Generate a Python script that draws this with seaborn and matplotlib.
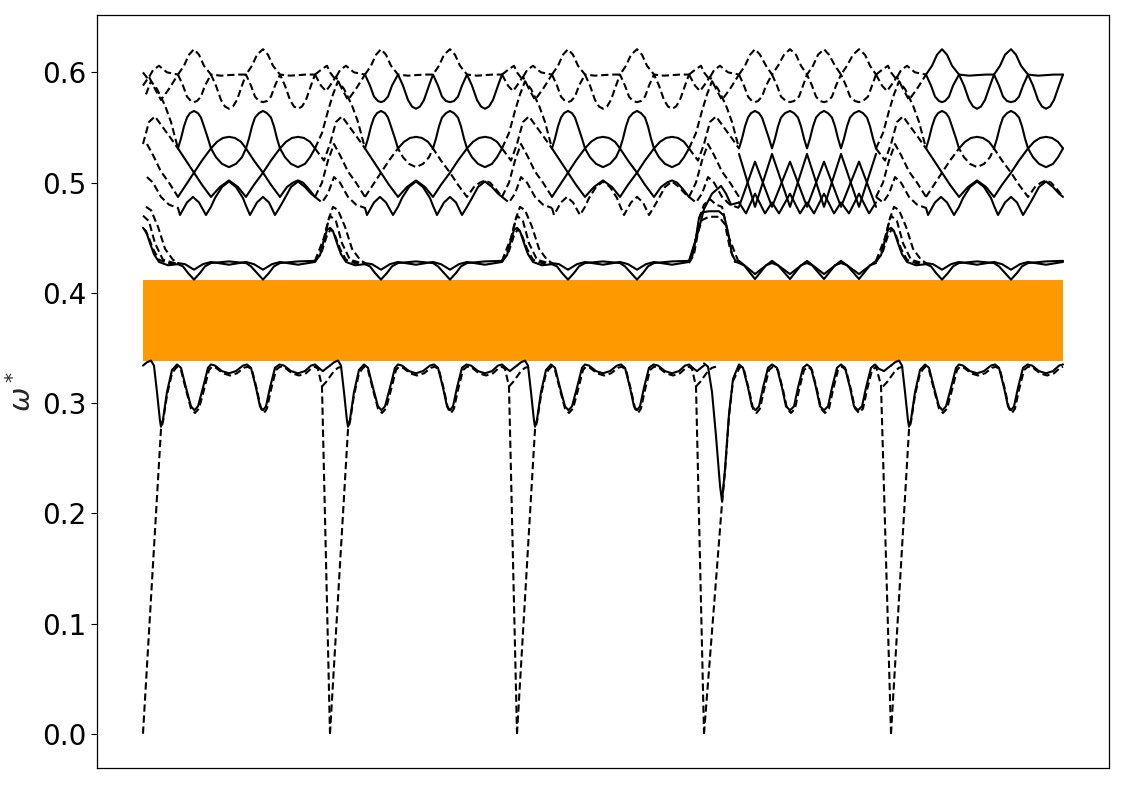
import matplotlib
matplotlib.use("Agg")
import matplotlib.pyplot as plt
import seaborn as sns
import pandas as pd

# k-path: five segments, positions read in pixels (187 px per full segment)
SEG = 187.0
seg_start = [0, 1, 2, 3, 4]
seg_kind = ["A", "A", "A", "B", "A"]     # seg 4 has the short-period pattern
seg_end = [187, 187, 187, 187, 172]       # last segment is shorter
bnd_kind = ["peak", "peak", "plateau", "peak"]

# ---------------- upper bands, main part of a segment (s = 35..172 px) ----------------
UE_A_s = [35, 41, 46, 51, 56, 61, 68, 78, 86, 95, 103, 109, 114, 120, 125, 130, 137, 147, 155, 163, 172]
UE_A_v = [0.598, 0.606, 0.616, 0.621, 0.616, 0.606, 0.598, 0.597, 0.5975, 0.598, 0.598, 0.606, 0.616,
          0.621, 0.616, 0.606, 0.598, 0.597, 0.5975, 0.598, 0.598]
UE_B_s = [35, 41, 46, 51, 56, 62, 68, 74, 80, 86, 92, 97, 103, 109, 114, 120, 125, 131, 137, 143, 149,
          155, 161, 166, 172]
UE_B_v = [0.598, 0.606, 0.616, 0.621, 0.616, 0.606, 0.598, 0.606, 0.616, 0.621, 0.616, 0.606, 0.598,
          0.606, 0.616, 0.621, 0.616, 0.606, 0.598, 0.606, 0.616, 0.621, 0.616, 0.606, 0.598]

LE_A_s = [35, 40, 44, 48, 51, 54, 58, 62, 68, 73, 78, 82, 86, 90, 94, 99, 103, 108, 112, 116, 120, 124,
          128, 132, 137, 142, 147, 151, 155, 159, 163, 168, 172]
LE_A_v = [0.598, 0.588, 0.578, 0.574, 0.573, 0.574, 0.578, 0.588, 0.598, 0.588, 0.575, 0.569, 0.567,
          0.569, 0.575, 0.588, 0.598, 0.588, 0.578, 0.574, 0.573, 0.574, 0.578, 0.588, 0.598, 0.588,
          0.575, 0.569, 0.567, 0.569, 0.575, 0.588, 0.598]
LE_B_s = [35, 40, 44, 48, 51, 54, 58, 62, 68, 73, 77, 82, 86, 90, 95, 99, 103, 108, 112, 116, 120, 124,
          128, 132, 137, 142, 146, 151, 155, 159, 164, 168, 172]
LE_B_v = [0.598, 0.588, 0.578, 0.574, 0.573, 0.574, 0.578, 0.588, 0.598, 0.588, 0.578, 0.574, 0.573,
          0.574, 0.578, 0.588, 0.598, 0.588, 0.578, 0.574, 0.573, 0.574, 0.578, 0.588, 0.598, 0.588,
          0.578, 0.574, 0.573, 0.574, 0.578, 0.588, 0.598]

BELL_A_s = [35, 38, 41, 44, 47, 51, 55, 58, 61, 65, 68, 74, 80, 86, 92, 98, 103, 106, 109, 112, 116,
            120, 124, 128, 131, 134, 137, 143, 149, 155, 161, 167, 172]
BELL_A_v = [0.531, 0.540, 0.551, 0.559, 0.563, 0.565, 0.563, 0.559, 0.551, 0.540, 0.531, 0.537, 0.5405,
            0.5415, 0.5405, 0.537, 0.531, 0.540, 0.551, 0.559, 0.563, 0.565, 0.563, 0.559, 0.551, 0.540,
            0.531, 0.537, 0.5405, 0.5415, 0.5405, 0.537, 0.531]
BELL_B_s = [35, 38, 41, 44, 47, 51, 55, 58, 61, 65, 68, 71, 74, 77, 81, 86, 90, 94, 97, 100, 103, 106,
            109, 112, 116, 120, 124, 128, 131, 134, 137, 140, 143, 146, 150, 155, 159, 163, 166, 169, 172]
BELL_B_v = [0.531, 0.540, 0.551, 0.559, 0.563, 0.565, 0.563, 0.559, 0.551, 0.540,
            0.531, 0.540, 0.551, 0.559, 0.563, 0.565, 0.563, 0.559, 0.551, 0.540,
            0.531, 0.540, 0.551, 0.559, 0.563, 0.565, 0.563, 0.559, 0.551, 0.540,
            0.531, 0.540, 0.551, 0.559, 0.563, 0.565, 0.563, 0.559, 0.551, 0.540, 0.531]

MID1_A_s = [35, 43, 51, 59, 68, 77, 86, 95, 103, 111, 120, 128, 137, 142, 148, 155, 162, 167, 172]
MID1_A_v = [0.531, 0.520, 0.509, 0.498, 0.487, 0.496, 0.502, 0.496, 0.487, 0.498, 0.509, 0.520, 0.531,
            0.523, 0.517, 0.514, 0.517, 0.523, 0.531]
MID1_B_s = [35, 51, 68, 86, 103, 120, 137, 155, 172]
MID1_B_v = [0.478, 0.519, 0.478, 0.519, 0.478, 0.519, 0.478, 0.519, 0.478]

MID2_A_s = [35, 43, 51, 59, 68, 73, 79, 86, 93, 99, 103, 111, 120, 128, 137, 144, 150, 155, 160, 166, 172]
MID2_A_v = [0.487, 0.498, 0.509, 0.520, 0.531, 0.523, 0.517, 0.514, 0.517, 0.523, 0.531, 0.520, 0.509,
            0.498, 0.487, 0.496, 0.500, 0.502, 0.500, 0.494, 0.487]
MID2_B_s = [35, 51, 68, 86, 103, 120, 137, 155, 172]
MID2_B_v = [0.526, 0.478, 0.526, 0.478, 0.526, 0.478, 0.526, 0.478, 0.526]

W_A_s = [35, 37, 44, 50, 56, 63, 68, 72, 79, 86, 93, 100, 103, 107, 114, 120, 126, 132, 137, 142, 148,
         155, 162, 168, 172]
W_A_v = [0.477, 0.4706, 0.482, 0.487, 0.482, 0.4706, 0.478, 0.486, 0.496, 0.501, 0.496, 0.486, 0.479,
         0.4706, 0.482, 0.487, 0.482, 0.4706, 0.478, 0.486, 0.496, 0.501, 0.496, 0.490, 0.487]
W_B_s = [35, 42, 51, 61, 68, 75, 86, 96, 103, 110, 120, 130, 137, 145, 155, 165, 172]
W_B_v = [0.482, 0.472, 0.490, 0.472, 0.482, 0.472, 0.490, 0.472, 0.482, 0.472, 0.490, 0.472, 0.482,
         0.472, 0.490, 0.472, 0.482]

# band just above the gap
G1_A_s = [35, 40, 45, 51, 57, 62, 68, 86, 103, 108, 114, 120, 126, 131, 137, 155, 172]
G1_A_v = [0.426, 0.424, 0.418, 0.412, 0.418, 0.424, 0.427, 0.4285, 0.427, 0.424, 0.418, 0.412, 0.418,
          0.424, 0.427, 0.4285, 0.429]
G1_B_s = [35, 40, 51, 62, 68, 74, 86, 97, 103, 108, 120, 131, 137, 143, 155, 166, 172]
G1_B_v = [0.427, 0.425, 0.4125, 0.425, 0.427, 0.425, 0.4125, 0.425, 0.427, 0.425, 0.4125, 0.425, 0.427,
          0.425, 0.4125, 0.425, 0.427]
G2_A_s = [35, 42, 51, 60, 68, 86, 103, 111, 120, 129, 137, 155, 172]
G2_A_v = [0.427, 0.426, 0.421, 0.426, 0.428, 0.4255, 0.428, 0.426, 0.421, 0.426, 0.428, 0.4255, 0.428]
G2_B_s = [35, 51, 68, 86, 103, 120, 137, 155, 172]
G2_B_v = [0.429, 0.417, 0.429, 0.417, 0.429, 0.417, 0.429, 0.417, 0.429]

# ---------------- lowest band (s = 0..187 px) ----------------
LOW_A_s = [0, 4, 8, 11, 14, 17, 18, 20, 24, 29, 34, 38, 43, 48, 51.5, 55, 60, 65, 68, 72, 79, 86, 93,
           100, 104, 108, 113, 117, 120, 123, 127, 132, 136.5, 141, 148, 155, 162, 168, 172, 177, 180,
           184, 187]
LOW_A_v = [0.334, 0.337, 0.3385, 0.334, 0.310, 0.284, 0.2785, 0.285, 0.310, 0.330, 0.335, 0.332, 0.314,
           0.297, 0.2935, 0.297, 0.314, 0.332, 0.335, 0.334, 0.329, 0.327, 0.329, 0.334, 0.335, 0.332,
           0.314, 0.297, 0.2935, 0.297, 0.314, 0.332, 0.335, 0.334, 0.329, 0.327, 0.329, 0.334, 0.335,
           0.331, 0.329, 0.332, 0.334]
LOW_B_s = [0, 4, 8, 12, 16, 18, 21, 25, 29, 35, 39, 44, 48, 51.5, 55, 59, 64, 68, 73, 78, 82, 86, 90,
           94, 99, 103, 107, 112, 116, 120, 124, 128, 133, 137, 141, 146, 150, 154, 158, 162, 167, 171,
           175, 180, 184, 187]
LOW_B_v = [0.336, 0.333, 0.310, 0.270, 0.225, 0.211, 0.240, 0.290, 0.322,
           0.335, 0.332, 0.314, 0.297, 0.2935, 0.297, 0.314, 0.332,
           0.335, 0.332, 0.314, 0.297, 0.2935, 0.297, 0.314, 0.332,
           0.335, 0.332, 0.314, 0.297, 0.2935, 0.297, 0.314, 0.332,
           0.335, 0.332, 0.314, 0.297, 0.2935, 0.297, 0.314, 0.332,
           0.335, 0.331, 0.329, 0.332, 0.334]
# acoustic (dashed) branch, 0 at every path corner
DA_A_s = [0, 18, 20, 24, 29, 34, 38, 43, 48, 52, 56, 61, 66, 69, 73, 80, 87, 94, 101, 105, 109, 114,
          118, 121, 124, 128, 133, 137, 142, 149, 156, 163, 169, 172, 175, 179, 187]
DA_A_v = [0.0, 0.276, 0.283, 0.307, 0.327, 0.333, 0.330, 0.312, 0.295, 0.291, 0.295, 0.312, 0.330,
          0.333, 0.332, 0.327, 0.325, 0.327, 0.332, 0.333, 0.330, 0.312, 0.295, 0.291, 0.295, 0.312,
          0.330, 0.333, 0.332, 0.327, 0.325, 0.327, 0.332, 0.333, 0.331, 0.315, 0.0]
DA_B_s = [0, 18, 21, 25, 29, 36, 40, 45, 49, 52.5, 56, 60, 65, 69, 74, 79, 83, 87, 91, 95, 100, 104,
          108, 113, 117, 121, 125, 129, 134, 138, 142, 147, 151, 155, 159, 163, 168, 172, 177, 187]
DA_B_v = [0.0, 0.209, 0.238, 0.288, 0.320,
          0.333, 0.330, 0.312, 0.295, 0.291, 0.295, 0.312, 0.330,
          0.333, 0.330, 0.312, 0.295, 0.291, 0.295, 0.312, 0.330,
          0.333, 0.330, 0.312, 0.295, 0.291, 0.295, 0.312, 0.330,
          0.333, 0.330, 0.312, 0.295, 0.291, 0.295, 0.312, 0.330,
          0.333, 0.316, 0.0]
# short dashed branch crossing each corner (t = px from the corner)
DB_t = [-8, -4, 0, 4, 8, 12]
DB_v = [0.315, 0.319, 0.324, 0.329, 0.332, 0.333]

# ---------------- tangles around the corners (t = -15..35 px) ----------------
UE_bd_t = [-15, -8, -3, 0, 5, 10, 16, 24, 35]
UE_bd_v = [0.598, 0.603, 0.606, 0.600, 0.594, 0.602, 0.606, 0.600, 0.598]
LE_bd_t = [-15, -9, -4, 0, 6, 12, 18, 26, 35]
LE_bd_v = [0.598, 0.588, 0.583, 0.588, 0.596, 0.585, 0.575, 0.585, 0.598]
BELL_bd_t = [-15, -8, -2, 3, 8, 14, 22, 28, 35]
BELL_bd_v = [0.531, 0.545, 0.565, 0.580, 0.592, 0.585, 0.570, 0.555, 0.531]
MID1_bd_t = [-15, -6, 0, 6, 12, 20, 28, 35]
MID1_bd_v = [0.531, 0.520, 0.535, 0.555, 0.560, 0.550, 0.540, 0.531]
MID2_bd_t = [-15, -8, -2, 4, 10, 18, 26, 35]
MID2_bd_v = [0.487, 0.500, 0.520, 0.535, 0.525, 0.510, 0.500, 0.487]
W_bd_t = [-15, -8, -2, 4, 10, 18, 26, 35]
W_bd_v = [0.487, 0.482, 0.490, 0.505, 0.500, 0.487, 0.480, 0.477]
G1_pk_t = [-15, -10, -6, -3, 0, 3, 7, 11, 16, 25, 35]
G1_pk_v = [0.429, 0.434, 0.448, 0.457, 0.459, 0.456, 0.445, 0.435, 0.428, 0.425, 0.426]
G2_pk_t = [-15, -8, -3, 1, 5, 10, 16, 25, 35]
G2_pk_v = [0.428, 0.438, 0.452, 0.458, 0.452, 0.440, 0.430, 0.427, 0.427]
GD1_pk_t = [-15, -8, -2, 3, 8, 15, 22, 30, 35]
GD1_pk_v = [0.428, 0.440, 0.465, 0.478, 0.475, 0.460, 0.440, 0.430, 0.427]
GD2_pk_t = [-15, -6, 0, 6, 12, 20, 35]
GD2_pk_v = [0.429, 0.450, 0.470, 0.465, 0.445, 0.430, 0.426]
G1_pl_t = [-15, -12, -8, -5, -2, 5, 15, 20, 24, 28, 32, 35]
G1_pl_v = [0.428, 0.432, 0.450, 0.468, 0.473, 0.474, 0.474, 0.470, 0.455, 0.435, 0.428, 0.427]
G2_pl_t = [-15, -10, -6, -2, 5, 15, 21, 26, 31, 35]
G2_pl_v = [0.427, 0.435, 0.455, 0.466, 0.469, 0.469, 0.462, 0.440, 0.428, 0.429]
GD1_pl_t = [-15, -9, -4, 0, 6, 12, 18, 25, 35]
GD1_pl_v = [0.428, 0.445, 0.470, 0.480, 0.485, 0.480, 0.478, 0.450, 0.427]
GD2_pl_t = [-15, -6, 0, 8, 17, 22, 27, 35]
GD2_pl_v = [0.429, 0.455, 0.476, 0.490, 0.497, 0.490, 0.480, 0.482]

main_bands = {
    "UE": ({"A": (UE_A_s, UE_A_v), "B": (UE_B_s, UE_B_v)}, ["--", "--", "--", "--", "-"]),
    "LE": ({"A": (LE_A_s, LE_A_v), "B": (LE_B_s, LE_B_v)}, ["--", "-", "--", "--", "-"]),
    "BELL": ({"A": (BELL_A_s, BELL_A_v), "B": (BELL_B_s, BELL_B_v)}, ["-"] * 5),
    "MID1": ({"A": (MID1_A_s, MID1_A_v), "B": (MID1_B_s, MID1_B_v)}, ["-"] * 5),
    "MID2": ({"A": (MID2_A_s, MID2_A_v), "B": (MID2_B_s, MID2_B_v)}, ["-", "--", "-", "-", "--"]),
    "W": ({"A": (W_A_s, W_A_v), "B": (W_B_s, W_B_v)}, ["-", "-", "--", "-", "-"]),
    "G1": ({"A": (G1_A_s, G1_A_v), "B": (G1_B_s, G1_B_v)}, ["-"] * 5),
    "G2": ({"A": (G2_A_s, G2_A_v), "B": (G2_B_s, G2_B_v)}, ["-"] * 5),
    "LOW": ({"A": (LOW_A_s, LOW_A_v), "B": (LOW_B_s, LOW_B_v)}, ["-"] * 5),
    "DA": ({"A": (DA_A_s, DA_A_v), "B": (DA_B_s, DA_B_v)}, ["--"] * 5),
}

corner_bands = [
    ({"peak": (UE_bd_t, UE_bd_v), "plateau": (UE_bd_t, UE_bd_v)}, "--", "--"),
    ({"peak": (LE_bd_t, LE_bd_v), "plateau": (LE_bd_t, LE_bd_v)}, "--", "--"),
    ({"peak": (BELL_bd_t, BELL_bd_v), "plateau": (BELL_bd_t, BELL_bd_v)}, "--", "--"),
    ({"peak": (MID1_bd_t, MID1_bd_v), "plateau": (MID1_bd_t, MID1_bd_v)}, "--", "--"),
    ({"peak": (MID2_bd_t, MID2_bd_v), "plateau": (MID2_bd_t, MID2_bd_v)}, "--", "--"),
    ({"peak": (W_bd_t, W_bd_v), "plateau": (W_bd_t, W_bd_v)}, "--", "--"),
    ({"peak": (G1_pk_t, G1_pk_v), "plateau": (G1_pl_t, G1_pl_v)}, "-", "-"),
    ({"peak": (G2_pk_t, G2_pk_v), "plateau": (G2_pl_t, G2_pl_v)}, "--", "--"),
    ({"peak": (GD1_pk_t, GD1_pk_v), "plateau": (GD1_pl_t, GD1_pl_v)}, "--", "--"),
    ({"peak": (GD2_pk_t, GD2_pk_v), "plateau": (GD2_pl_t, GD2_pl_v)}, "--", "-"),
]

rows = []


def add(xs, ys, style):
    uid = len(set(r[0] for r in rows)) if rows else 0
    for x, y in zip(xs, ys):
        rows.append((uid, x, y, "solid" if style == "-" else "dashed"))


for name, (templ, styles) in main_bands.items():
    for i in range(5):
        s, v = templ[seg_kind[i]]
        pts = [(seg_start[i] + a / SEG, b) for a, b in zip(s, v) if a <= seg_end[i]]
        add([p[0] for p in pts], [p[1] for p in pts], styles[i])

for templ, st_peak, st_plat in corner_bands:
    # start of the path: only the right half of a corner
    t, v = templ["peak"]
    add([a / SEG for a in t if a >= 0], [b for a, b in zip(t, v) if a >= 0], st_peak)
    for j in range(4):
        kind = bnd_kind[j]
        t, v = templ[kind]
        add([seg_start[j + 1] + a / SEG for a in t], v, st_peak if kind == "peak" else st_plat)

for j in range(4):
    add([seg_start[j + 1] + a / SEG for a in DB_t], DB_v, "--")

df = pd.DataFrame(rows, columns=["line", "k", "omega", "style"])

sns.set_style("ticks", {"axes.edgecolor": "black", "xtick.color": "black", "ytick.color": "black"})
fig, ax = plt.subplots(figsize=(11.25, 7.85), dpi=100)
fig.subplots_adjust(left=0.0862, right=0.9858, bottom=0.0217, top=0.9809)

# band gap between the lowest band and the next one
k_end = seg_start[-1] + seg_end[-1] / SEG
gap_lo = max(LOW_A_v + LOW_B_v)
gap_hi = min(G1_A_v + G1_B_v)
ax.fill_between([0, k_end], gap_lo, gap_hi, color="#ff9900", lw=0, zorder=1)

sns.lineplot(data=df, x="k", y="omega", units="line", estimator=None, sort=False,
             style="style", style_order=["solid", "dashed"],
             dashes={"solid": "", "dashed": (3.5, 1.8)},
             color="black", linewidth=1.5, legend=False, ax=ax, zorder=2)

ax.set_xticks([])
ax.set_yticks([0.0, 0.1, 0.2, 0.3, 0.4, 0.5, 0.6])
ax.set_yticklabels(["0.0", "0.1", "0.2", "0.3", "0.4", "0.5", "0.6"])
ax.tick_params(axis="y", labelsize=20, length=4)
ax.set_xlabel("")
ax.set_ylabel(r"$\omega^*$", fontsize=21)
for sp in ax.spines.values():
    sp.set_linewidth(0.9)

fig.savefig("out.png", dpi=100)
